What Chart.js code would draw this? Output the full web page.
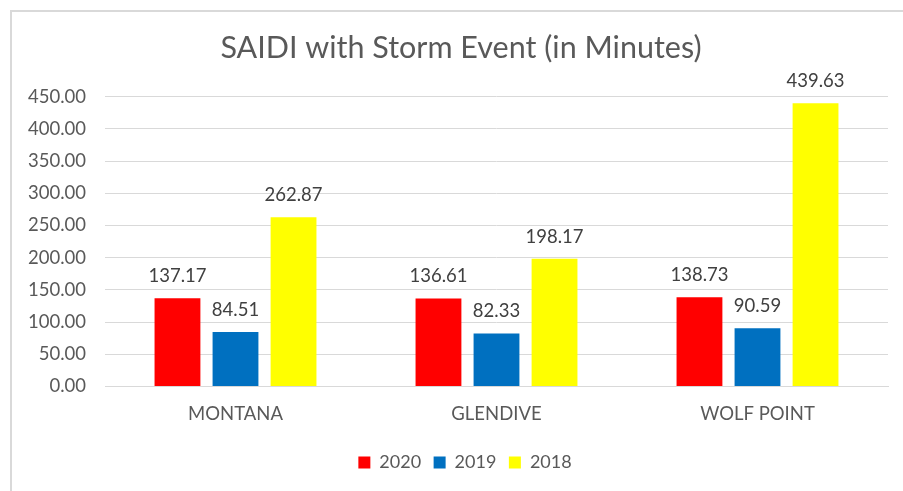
<!DOCTYPE html>
<html>
<head>
<meta charset="utf-8">
<script src="https://cdn.jsdelivr.net/npm/chart.js@4.4.0/dist/chart.umd.min.js"></script>
<style>
  html, body { margin: 0; padding: 0; background: #fff; }
  #wrap { position: absolute; left: 0; top: 0; width: 903px; height: 491px; }
  #frame { position: absolute; left: 10px; top: 10px; width: 910px; height: 500px; border: 2px solid #d9d9d9; box-sizing: border-box; pointer-events: none; }
</style>
</head>
<body>
<div id="wrap"><canvas id="c" width="903" height="491"></canvas></div>
<div id="frame"></div>
<script>
const categories = ["MONTANA", "GLENDIVE", "WOLF POINT"];
const seriesNames = ["2020", "2019", "2018"];
const values2020 = [137.17, 136.61, 138.73];
const values2019 = [84.51, 82.33, 90.59];
const values2018 = [262.87, 198.17, 439.63];
const yTicks = [0, 50, 100, 150, 200, 250, 300, 350, 400, 450];

const FONT = "Lato, 'Open Sans', sans-serif";

const labelPlugin = {
  id: 'barLabels',
  afterLayout(chart) {
    // centre title and legend on the outer chart frame rather than the canvas
    if (chart.titleBlock) { chart.titleBlock.left += 17; chart.titleBlock.right += 17; }
    if (chart.legend) { chart.legend.left += 21; chart.legend.right += 21; }
  },
  afterDatasetsDraw(chart) {
    const ctx = chart.ctx;
    ctx.save();
    ctx.font = "18.5px " + FONT;
    ctx.fillStyle = "#404040";
    ctx.textAlign = "center";
    ctx.textBaseline = "alphabetic";
    chart.data.datasets.forEach((ds, i) => {
      const meta = chart.getDatasetMeta(i);
      meta.data.forEach((bar, j) => {
        ctx.fillText(ds.data[j].toFixed(2), bar.x, bar.y - 16);
      });
    });
    ctx.restore();
  }
};

new Chart(document.getElementById('c'), {
  type: 'bar',
  data: {
    labels: categories,
    datasets: [
      { label: seriesNames[0], data: values2020, backgroundColor: "#FF0000" },
      { label: seriesNames[1], data: values2019, backgroundColor: "#0070C0" },
      { label: seriesNames[2], data: values2018, backgroundColor: "#FFFF00" }
    ]
  },
  options: {
    responsive: false,
    animation: false,
    devicePixelRatio: 1,
    layout: { padding: { left: 0, right: 15, top: 30, bottom: 9.5 } },
    datasets: { bar: { categoryPercentage: 0.667, barPercentage: 0.79 } },
    plugins: {
      title: {
        display: true,
        text: "SAIDI with Storm Event (in Minutes)",
        color: "#595959",
        font: { family: FONT, size: 30.5, weight: 'normal' },
        padding: { top: 0, bottom: 30 }
      },
      legend: {
        position: 'bottom',
        labels: {
          color: "#595959",
          font: { family: FONT, size: 18 },
          boxWidth: 12,
          boxHeight: 12,
          padding: 12.5
        }
      },
      tooltip: { enabled: false }
    },
    scales: {
      x: {
        afterFit(scale) { scale.height = 54.5; },
        grid: { display: false, drawTicks: false },
        border: { color: "#d9d9d9", width: 1 },
        ticks: { color: "#595959", font: { family: FONT, size: 18.5 }, padding: 16 }
      },
      y: {
        min: 0,
        max: 450,
        afterBuildTicks(scale) { scale.ticks = yTicks.map(v => ({ value: v })); },
        afterFit(scale) { scale.width = 105; },
        grid: { color: "#d9d9d9", lineWidth: 1, drawTicks: false },
        border: { display: false },
        ticks: {
          color: "#595959",
          font: { family: FONT, size: 18.5 },
          padding: 19,
          callback: (v) => Number(v).toFixed(2)
        }
      }
    }
  },
  plugins: [labelPlugin]
});
</script>
</body>
</html>
